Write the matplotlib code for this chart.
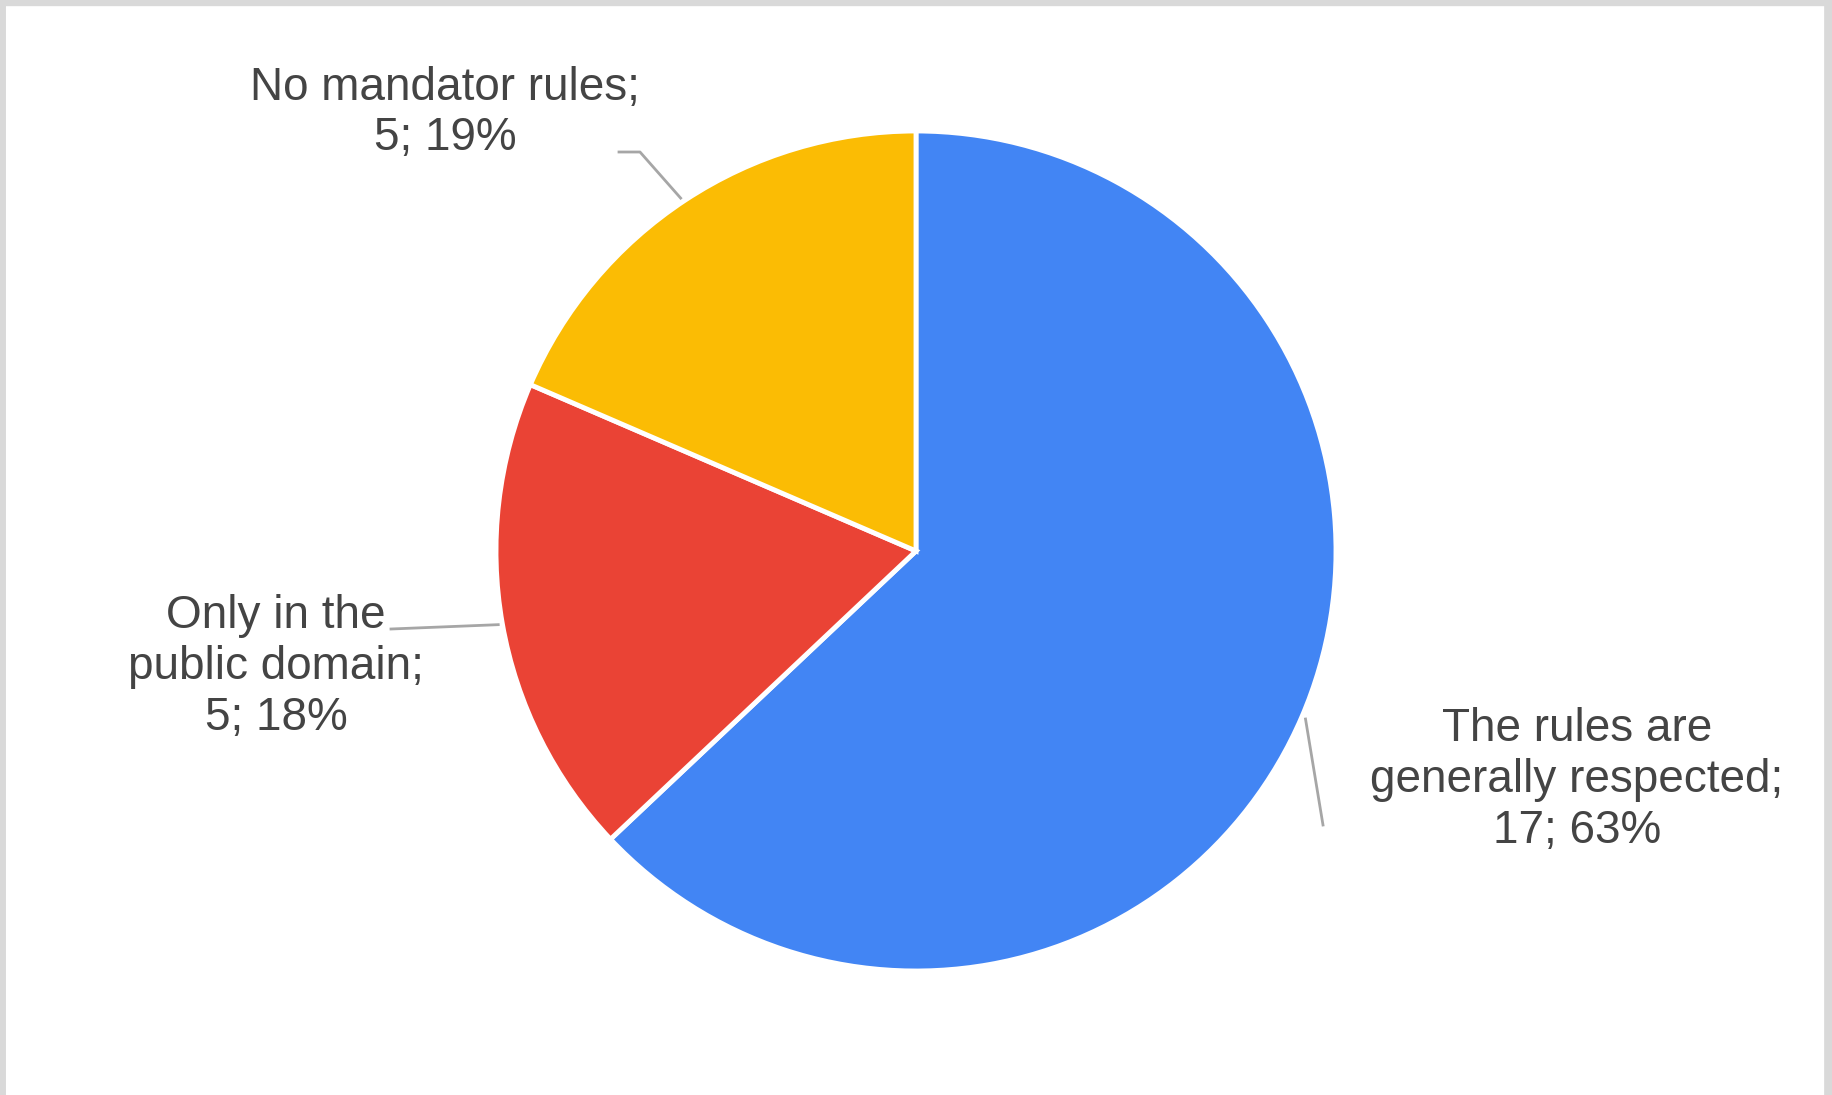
import numpy as np
import matplotlib.pyplot as plt
from matplotlib.lines import Line2D

plt.rcParams['font.family'] = ['Liberation Sans', 'DejaVu Sans']

categories = ["The rules are\ngenerally respected;", "Only in the\npublic domain;", "No mandator rules;"]
counts = [17, 5, 5]
pct_labels = ["63%", "18%", "19%"]
colors = ["#4285F4", "#EA4335", "#FBBC04"]

W, H = 1832, 1095
fig = plt.figure(figsize=(W / 100, H / 100), dpi=100)
ax = fig.add_axes([0, 0, 1, 1])

cx, cy, r = 916, 544, 420
wedges, _ = ax.pie(counts, colors=colors, startangle=90, counterclock=False,
                   center=(cx, cy), radius=r, frame=True,
                   wedgeprops=dict(edgecolor="white", linewidth=3.5))
ax.set_xlim(0, W)
ax.set_ylim(0, H)
ax.set_aspect("equal")
ax.axis("off")


def edge_point(theta, scale=1.01):
    t = np.deg2rad(theta)
    return cx + r * scale * np.cos(t), cy + r * scale * np.sin(t)


mids = [(w.theta1 + w.theta2) / 2 for w in wedges]
line_kw = dict(color="#a6a6a6", lw=2)

# blue: short line dropping from the mid-point of the arc
x0, y0 = edge_point(mids[0])
ax.plot([x0, 1323], [y0, 270], **line_kw)
# red: near-horizontal line to the label
x0, y0 = edge_point(mids[1])
ax.plot([x0, 391], [y0, 466], **line_kw)
# yellow: elbow line up to the label
x0, y0 = edge_point(123.7)
ax.plot([x0, 640, 619], [y0, 943, 943], **line_kw)

labels = [f"{c}\n{n}; {p}" for c, n, p in zip(categories, counts, pct_labels)]
label_pos = [(1577, 315), (276, 428), (445, 982)]
for txt, (tx, ty) in zip(labels, label_pos):
    ax.text(tx, ty, txt, ha="center", va="center", fontsize=33,
            color="#444444", linespacing=1.2)

# light grey frame on top, left and right
for xs, ys, lw in [((0, 1), (0.998, 0.998), 6), ((0.001, 0.001), (0, 1), 5),
                   ((0.9985, 0.9985), (0, 1), 7)]:
    fig.add_artist(Line2D(xs, ys, color="#d9d9d9", lw=lw, transform=fig.transFigure))

fig.savefig("out.png", dpi=100, facecolor="white")
